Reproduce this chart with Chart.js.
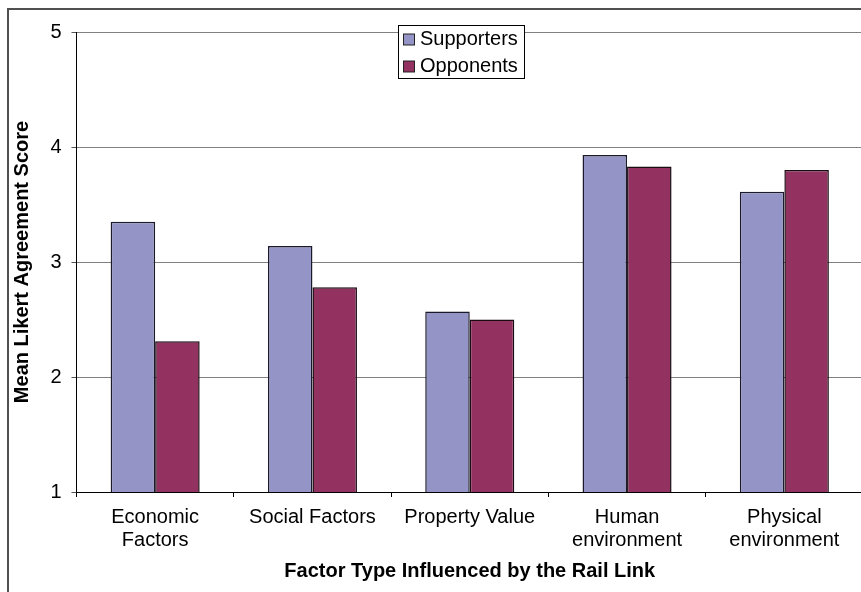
<!DOCTYPE html>
<html>
<head>
<meta charset="utf-8">
<script src="https://cdn.jsdelivr.net/npm/chart.js@4/dist/chart.umd.min.js"></script>
<style>
  html, body { margin: 0; padding: 0; overflow: hidden; background: #fff; }
  #wrap { position: absolute; left: 0; top: 0; }
</style>
</head>
<body>
<div id="wrap"><canvas id="c" width="863" height="592"></canvas></div>
<script>
// Factor types and mean agreement scores per group
const categories = [
  ['Economic', 'Factors'],
  'Social Factors',
  'Property Value',
  ['Human', 'environment'],
  ['Physical', 'environment']
];
const supporters = [3.35, 3.14, 2.57, 3.93, 3.61];
const opponents  = [2.31, 2.78, 2.50, 3.83, 3.80];
const seriesNames = ['Supporters', 'Opponents'];
const yTickValues = [1, 2, 3, 4, 5];

const FONT = "Arial, 'Liberation Sans', sans-serif";

// White page background and the outer chart frame
const frame = {
  id: 'frame',
  beforeDraw(chart) {
    const ctx = chart.ctx;
    ctx.save();
    ctx.fillStyle = '#fff';
    ctx.fillRect(0, 0, chart.width, chart.height);
    ctx.restore();
  },
  afterDraw(chart) {
    const ctx = chart.ctx;
    ctx.save();
    ctx.strokeStyle = '#505050';
    ctx.lineWidth = 2;
    ctx.beginPath();
    ctx.moveTo(8, chart.height + 5);
    ctx.lineTo(8, 9);
    ctx.lineTo(chart.width + 5, 9);
    ctx.stroke();
    ctx.restore();
  }
};

// Boxed legend sitting over the top gridline
const boxLegend = {
  id: 'boxLegend',
  afterDraw(chart) {
    const ctx = chart.ctx;
    const x = 398.5, y = 25.5, w = 126, h = 53;
    ctx.save();
    ctx.fillStyle = '#fff';
    ctx.fillRect(x, y, w, h);
    ctx.strokeStyle = '#000';
    ctx.lineWidth = 1;
    ctx.strokeRect(x, y, w, h);
    ctx.font = '20px ' + FONT;
    ctx.textBaseline = 'middle';
    ctx.textAlign = 'left';
    chart.data.datasets.forEach((ds, i) => {
      const cy = 39.5 + i * 27;
      ctx.fillStyle = ds.backgroundColor;
      ctx.fillRect(403.5, cy - 5.5, 11, 11);
      ctx.strokeStyle = '#222';
      ctx.strokeRect(403.5, cy - 5.5, 11, 11);
      ctx.fillStyle = '#000';
      ctx.fillText(ds.label, 420, cy);
    });
    ctx.restore();
  }
};

new Chart(document.getElementById('c'), {
  type: 'bar',
  data: {
    labels: categories,
    datasets: [
      {
        label: seriesNames[0],
        data: supporters,
        backgroundColor: '#9494C6',
        borderColor: '#1a1a2a',
        borderWidth: 1.5,
        borderSkipped: false
      },
      {
        label: seriesNames[1],
        data: opponents,
        backgroundColor: '#933261',
        borderColor: '#1a0a12',
        borderWidth: 1.5,
        borderSkipped: false
      }
    ]
  },
  options: {
    responsive: false,
    devicePixelRatio: 1,
    animation: false,
    layout: { padding: { top: 32, left: 0, right: 0, bottom: 0 } },
    datasets: {
      bar: { categoryPercentage: 0.566, barPercentage: 1.0 }
    },
    plugins: {
      legend: { display: false },
      tooltip: { enabled: false },
      title: { display: false }
    },
    scales: {
      x: {
        grid: {
          offset: true,
          drawOnChartArea: false,
          drawTicks: true,
          tickLength: 5,
          tickColor: '#000'
        },
        border: { color: '#000', width: 1 },
        ticks: {
          color: '#000',
          font: { family: FONT, size: 20, lineHeight: 1.15 },
          padding: 9,
          maxRotation: 0,
          autoSkip: false
        },
        title: {
          display: true,
          text: 'Factor Type Influenced by the Rail Link',
          color: '#000',
          font: { family: FONT, size: 20, weight: 'bold', lineHeight: 1.2 },
          padding: { top: 0, bottom: 9 }
        },
        afterFit(scale) { scale.height = 100; }
      },
      y: {
        min: 1,
        max: 5,
        afterBuildTicks(scale) {
          scale.ticks = yTickValues.map(v => ({ value: v }));
        },
        grid: {
          color: '#808080',
          lineWidth: 1,
          drawTicks: true,
          tickLength: 5,
          tickColor: '#555'
        },
        border: { color: '#000', width: 1 },
        ticks: {
          color: '#000',
          font: { family: FONT, size: 20 },
          padding: 10
        },
        title: {
          display: true,
          text: 'Mean Likert Agreement Score',
          color: '#000',
          font: { family: FONT, size: 20, weight: 'bold', lineHeight: 1.2 },
          padding: { top: 10, bottom: 0 }
        },
        afterFit(scale) { scale.width = 76.5; }
      }
    }
  },
  plugins: [frame, boxLegend]
});
</script>
</body>
</html>
